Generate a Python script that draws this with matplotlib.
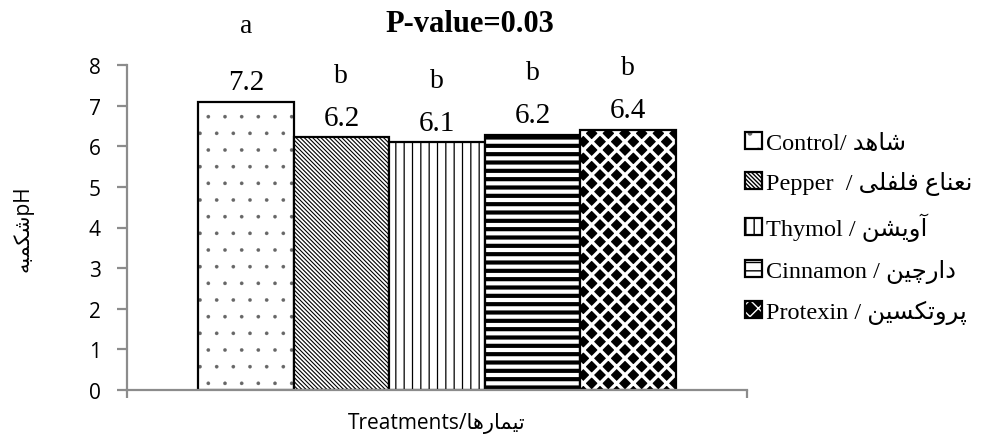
import matplotlib
matplotlib.use("Agg")
import matplotlib.pyplot as plt
import numpy as np

# data
treatments_en = ["Control", "Pepper", "Thymol", "Cinnamon", "Protexin"]
treatments_fa = ["شاهد", "نعناع فلفلی", "آویشن", "دارچین", "پروتکسین"]
ph_values = [7.1, 6.22, 6.1, 6.28, 6.41]
value_labels = ["7.2", "6.2", "6.1", "6.2", "6.4"]
group_letters = ["a", "b", "b", "b", "b"]
p_value_text = "P-value=0.03"
y_ticks = [0, 1, 2, 3, 4, 5, 6, 7, 8]

# minimal Persian shaping (matplotlib has no bidi / joining support)
FORMS = {
    'ا': ('\uFE8D', '\uFE8E', None, None),
    'آ': ('\uFE81', '\uFE82', None, None),
    'ب': ('\uFE8F', '\uFE90', '\uFE91', '\uFE92'),
    'پ': ('\uFB56', '\uFB57', '\uFB58', '\uFB59'),
    'ت': ('\uFE95', '\uFE96', '\uFE97', '\uFE98'),
    'چ': ('\uFB7A', '\uFB7B', '\uFB7C', '\uFB7D'),
    'د': ('\uFEA9', '\uFEAA', None, None),
    'ر': ('\uFEAD', '\uFEAE', None, None),
    'س': ('\uFEB1', '\uFEB2', '\uFEB3', '\uFEB4'),
    'ش': ('\uFEB5', '\uFEB6', '\uFEB7', '\uFEB8'),
    'ع': ('\uFEC9', '\uFECA', '\uFECB', '\uFECC'),
    'ف': ('\uFED1', '\uFED2', '\uFED3', '\uFED4'),
    'ک': ('\uFB8E', '\uFB8F', '\uFB90', '\uFB91'),
    'ل': ('\uFEDD', '\uFEDE', '\uFEDF', '\uFEE0'),
    'م': ('\uFEE1', '\uFEE2', '\uFEE3', '\uFEE4'),
    'ن': ('\uFEE5', '\uFEE6', '\uFEE7', '\uFEE8'),
    'ه': ('\uFEE9', '\uFEEA', '\uFEEB', '\uFEEC'),
    'و': ('\uFEED', '\uFEEE', None, None),
    'ی': ('\uFBFC', '\uFBFD', '\uFBFE', '\uFBFF'),
}


def shape(s):
    out = []
    for i, c in enumerate(s):
        if c not in FORMS:
            out.append(c)
            continue
        prev = s[i - 1] if i > 0 else None
        nxt = s[i + 1] if i + 1 < len(s) else None
        jp = prev in FORMS and FORMS[prev][2] is not None
        jn = nxt in FORMS and FORMS[c][2] is not None
        iso, fin, ini, med = FORMS[c]
        if jp and jn:
            out.append(med)
        elif jp:
            out.append(fin)
        elif jn:
            out.append(ini)
        else:
            out.append(iso)
    return "".join(reversed(out))


legend_labels = [
    "Control/ " + shape(treatments_fa[0]),
    "Pepper  / " + shape(treatments_fa[1]),
    "Thymol / " + shape(treatments_fa[2]),
    "Cinnamon / " + shape(treatments_fa[3]),
    "Protexin / " + shape(treatments_fa[4]),
]

serif = ["Liberation Serif", "DejaVu Sans"]
sans = ["Open Sans", "DejaVu Sans"]
gray = "#8c8c8c"

fig = plt.figure(figsize=(9.86, 4.39), dpi=100)
ax = fig.add_axes([127 / 986, 1 - 391 / 439, 620 / 986, (391 - 66) / 439])

x = np.arange(len(ph_values))
# per-bar fill: (face, hatch colour, hatch, hatch linewidth)
fills = [
    ("white", "#666666", ".", 0.2),
    ("white", "black", "\\" * 8, 0.8),
    ("white", "black", "||", 0.9),
    ("white", "black", "--", 3.0),
    ("black", "white", "xx", 2.4),
]

handles = []
for i in range(len(ph_values)):
    face, hcol, hatch, hlw = fills[i]
    bg = ax.bar(x[i], ph_values[i], width=1.0, color=face, edgecolor=hcol,
                linewidth=0, hatch=hatch)
    if hasattr(bg[0], "set_hatch_linewidth"):
        bg[0].set_hatch_linewidth(hlw)
    ol = ax.bar(x[i], ph_values[i], width=1.0, facecolor="none", edgecolor="black",
                linewidth=1.6)
    handles.append((bg[0], ol[0]))

for i in range(len(ph_values)):
    ax.annotate(value_labels[i], (x[i], ph_values[i]), xytext=(0, 9),
                textcoords="offset points", ha="center", va="baseline",
                fontsize=21, family=serif)
    off = 50 if i == 0 else 40
    ax.annotate(group_letters[i], (x[i], ph_values[i]), xytext=(0, off),
                textcoords="offset points", ha="center", va="baseline",
                fontsize=20, family=serif, annotation_clip=False)

fig.text(470 / 986, 1 - 32 / 439, p_value_text, ha="center", va="baseline",
         fontsize=22, fontweight="bold", family=serif)

ax.set_xlim(-1.243, 5.243)
ax.set_ylim(0, 8)
ax.set_yticks(y_ticks)
ax.set_xticks([-1.243, 5.243])
ax.set_xticklabels([])
for s in ["top", "right"]:
    ax.spines[s].set_visible(False)
for s in ["left", "bottom"]:
    ax.spines[s].set_color(gray)
    ax.spines[s].set_linewidth(1.6)
ax.tick_params(axis="y", direction="out", length=7, width=1.6, color=gray,
               pad=12, labelsize=15)
ax.tick_params(axis="x", direction="out", length=6, width=1.6, color=gray)
for lab in ax.get_yticklabels():
    lab.set_family(sans)

ax.set_ylabel(shape("شکمبه") + "pH", fontsize=15, family=sans, labelpad=40)
ax.set_xlabel("Treatments/" + shape("تیمارها"), fontsize=15, family=sans, labelpad=6)

fig.legend(handles, legend_labels, loc="center left",
           bbox_to_anchor=(745 / 986, 1 - 229 / 439), frameon=False,
           prop={"family": serif, "size": 17.5}, handlelength=0.7, handleheight=0.7,
           handletextpad=0.15, labelspacing=0.72, borderpad=0, borderaxespad=0)

fig.savefig("out.png", dpi=100)
